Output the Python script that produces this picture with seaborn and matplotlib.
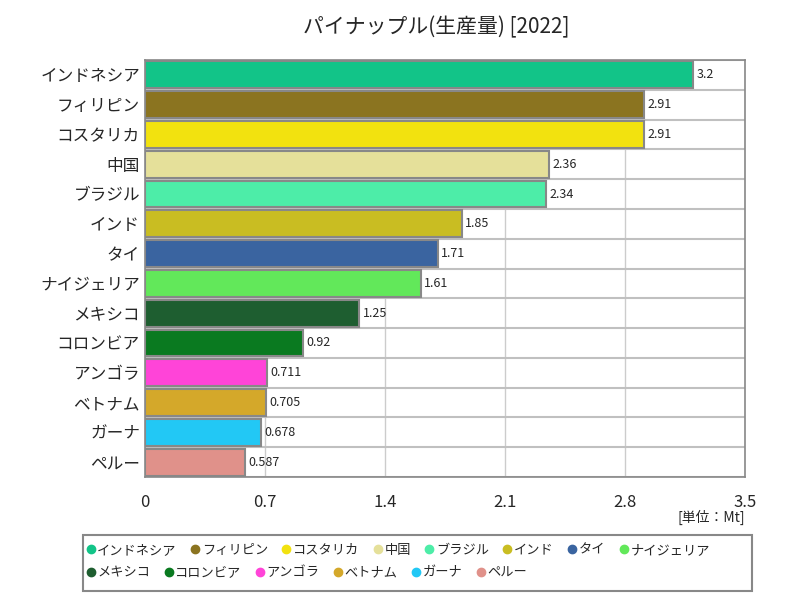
import numpy as np
import pandas as pd
import seaborn as sns
import matplotlib.pyplot as plt
from matplotlib.lines import Line2D
from matplotlib.patches import Rectangle

countries = ['インドネシア', 'フィリピン', 'コスタリカ', '中国', 'ブラジル', 'インド', 'タイ',
             'ナイジェリア', 'メキシコ', 'コロンビア', 'アンゴラ', 'ベトナム', 'ガーナ', 'ペルー']
values = [3.2, 2.91, 2.91, 2.36, 2.34, 1.85, 1.71, 1.61, 1.25, 0.92, 0.711, 0.705, 0.678, 0.587]
value_labels = ['3.2', '2.91', '2.91', '2.36', '2.34', '1.85', '1.71', '1.61', '1.25', '0.92',
                '0.711', '0.705', '0.678', '0.587']
colors = ['#12C488', '#8B7420', '#F2E20F', '#E5E09A', '#4DEDA8', '#C9BD22', '#3A64A0',
          '#62E85A', '#1E5E30', '#0A7A20', '#FF44D8', '#D4A82A', '#22C8F5', '#E0918A']
xticks = [0, 0.7, 1.4, 2.1, 2.8, 3.5]

sns.set_style('white')
plt.rcParams['font.family'] = ['Noto Sans CJK JP', 'DejaVu Sans']

df = pd.DataFrame({'country': countries, 'value': values})

fig = plt.figure(figsize=(8, 6), dpi=100)
ax = fig.add_axes([0.181, 0.205, 0.75, 0.695])

sns.barplot(data=df, x='value', y='country', hue='country', palette=colors, saturation=1,
            legend=False, edgecolor='#888888', linewidth=1.5, width=0.9, ax=ax, zorder=3)

ax.set_xlim(0, 3.5)
ax.set_xticks(xticks)
ax.set_xticklabels(['0', '0.7', '1.4', '2.1', '2.8', '3.5'], fontsize=12)
ax.set_yticks(range(len(countries)))
ax.set_yticklabels(countries, fontsize=12)
ax.set_yticks(np.arange(-0.5, len(countries), 1), minor=True)
ax.set_ylim(len(countries) - 0.5, -0.5)
ax.grid(axis='x', color='#cccccc', linewidth=1, zorder=0)
ax.grid(axis='y', which='minor', color='#c0c0c0', linewidth=1.5, zorder=0)
ax.tick_params(axis='both', which='both', length=0)
ax.tick_params(axis='x', pad=12)
ax.set_xlabel('')
ax.set_ylabel('')
for s in ax.spines.values():
    s.set_color('#888888')
    s.set_linewidth(1.2)

for i, (v, lab) in enumerate(zip(values, value_labels)):
    ax.text(v + 0.02, i, lab, va='center', ha='left', fontsize=9, zorder=4)

fig.text(0.545, 0.955, 'パイナップル(生産量) [2022]', ha='center', va='center', fontsize=15)
fig.text(0.931, 0.138, '[単位：Mt]', ha='right', va='center', fontsize=10)

# legend: two rows in one box
def handles(idx):
    return [Line2D([], [], marker='o', linestyle='', markersize=6,
                   markerfacecolor=colors[i], markeredgecolor=colors[i], label=countries[i])
            for i in idx]

fig.add_artist(Rectangle((0.104, 0.015), 0.836, 0.093, transform=fig.transFigure,
                         fill=False, edgecolor='#888888', linewidth=1.5))
fig.legend(handles=handles(range(8)), loc='center left', bbox_to_anchor=(0.105, 0.083),
           ncol=8, frameon=False, fontsize=9.5, handletextpad=0.0, columnspacing=0.9,
           handlelength=1.0, borderaxespad=0, borderpad=0)
fig.legend(handles=handles(range(8, 14)), loc='center left', bbox_to_anchor=(0.105, 0.045),
           ncol=6, frameon=False, fontsize=9.5, handletextpad=0.0, columnspacing=0.9,
           handlelength=1.0, borderaxespad=0, borderpad=0)

fig.savefig('out.png', dpi=100)
